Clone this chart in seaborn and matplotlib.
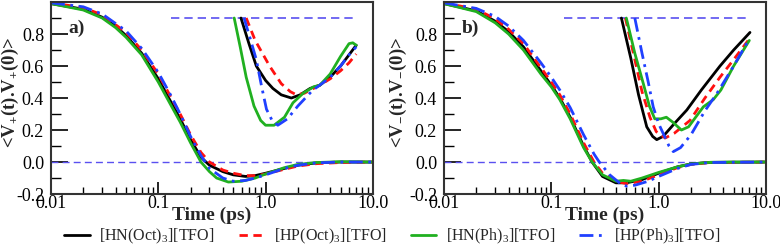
import numpy as np
import pandas as pd
import matplotlib
matplotlib.use("Agg")
from matplotlib import pyplot
import matplotlib.ticker as ticker
import seaborn as sns

# ---- data ----
names = ["[HN(Oct)$_3$][TFO]", "[HP(Oct)$_3$][TFO]", "[HN(Ph)$_3$][TFO]", "[HP(Ph)$_3$][TFO]"]
colors = ["black", "#ff1010", "#20b020", "#2040ff"]
styles = ["-", (0, (3, 2)), "-", (0, (5, 2, 1, 2))]

# panel a, main curves
a_black_x = [0.01, 0.02, 0.03, 0.04, 0.05, 0.07, 0.1, 0.13, 0.16, 0.2, 0.25, 0.3, 0.4, 0.5, 0.65, 0.8, 1.0, 1.5, 2, 3, 5, 10]
a_black_y = [0.99, 0.955, 0.905, 0.85, 0.79, 0.68, 0.52, 0.38, 0.27, 0.14, 0.03, -0.02, -0.06, -0.08, -0.09, -0.085, -0.07, -0.04, -0.02, -0.005, 0.0, 0.0]
a_red_x = [0.01, 0.02, 0.03, 0.05, 0.07, 0.1, 0.13, 0.16, 0.2, 0.25, 0.3, 0.4, 0.5, 0.65, 0.8, 1.0, 1.5, 2, 3, 5, 10]
a_red_y = [0.995, 0.965, 0.92, 0.81, 0.70, 0.55, 0.41, 0.30, 0.17, 0.06, 0.0, -0.05, -0.07, -0.085, -0.085, -0.075, -0.045, -0.025, -0.01, -0.003, 0.0]
a_green_x = [0.01, 0.02, 0.03, 0.04, 0.05, 0.07, 0.1, 0.13, 0.16, 0.2, 0.25, 0.3, 0.35, 0.45, 0.6, 0.8, 1.0, 1.5, 2, 3, 5, 10]
a_green_y = [0.99, 0.95, 0.90, 0.84, 0.78, 0.67, 0.50, 0.36, 0.25, 0.12, 0.0, -0.06, -0.10, -0.125, -0.12, -0.10, -0.075, -0.035, -0.015, -0.003, 0.002, 0.0]
a_blue_x = [0.01, 0.02, 0.03, 0.05, 0.07, 0.1, 0.13, 0.16, 0.2, 0.25, 0.3, 0.4, 0.5, 0.65, 0.8, 1.0, 1.5, 2, 3, 5, 10]
a_blue_y = [0.995, 0.97, 0.925, 0.82, 0.71, 0.56, 0.42, 0.30, 0.16, 0.04, -0.04, -0.10, -0.12, -0.115, -0.10, -0.08, -0.04, -0.02, -0.005, 0.0, 0.0]

# panel a, inset curves (drawn in the same axes)
ia_black_x = [0.59, 0.7, 0.82, 1.0, 1.17, 1.4, 1.74, 2.1, 2.6, 3.2, 4.0, 5.0, 6.0, 7.0]
ia_black_y = [0.9, 0.74, 0.60, 0.51, 0.46, 0.42, 0.40, 0.42, 0.46, 0.48, 0.53, 0.60, 0.67, 0.73]
ia_red_x = [0.66, 0.8, 1.09, 1.4, 1.7, 1.94, 2.3, 2.8, 3.2, 4.0, 5.0, 6.0, 7.0]
ia_red_y = [0.9, 0.76, 0.60, 0.49, 0.44, 0.42, 0.43, 0.46, 0.48, 0.52, 0.57, 0.62, 0.675]
ia_green_x = [0.51, 0.58, 0.66, 0.78, 0.9, 1.0, 1.2, 1.5, 1.8, 2.24, 2.8, 3.2, 4.0, 5.0, 6.0, 6.5, 7.0]
ia_green_y = [0.9, 0.72, 0.53, 0.35, 0.26, 0.23, 0.23, 0.28, 0.37, 0.43, 0.47, 0.48, 0.55, 0.66, 0.74, 0.745, 0.73]
ia_blue_x = [0.63, 0.72, 0.82, 0.92, 1.02, 1.15, 1.3, 1.6, 2.0, 2.76, 3.2, 4.0, 5.0, 6.0, 7.0]
ia_blue_y = [0.9, 0.77, 0.64, 0.47, 0.33, 0.26, 0.23, 0.27, 0.35, 0.45, 0.48, 0.53, 0.60, 0.67, 0.72]

# panel b, main curves
b_black_x = [0.01, 0.02, 0.03, 0.04, 0.055, 0.08, 0.1, 0.12, 0.15, 0.2, 0.24, 0.3, 0.4, 0.5, 0.7, 1.0, 1.5, 2, 3, 10]
b_black_y = [0.99, 0.945, 0.88, 0.815, 0.72, 0.57, 0.48, 0.40, 0.28, 0.10, 0.0, -0.09, -0.13, -0.13, -0.11, -0.07, -0.03, -0.012, -0.002, 0.0]
b_red_x = [0.01, 0.02, 0.03, 0.04, 0.055, 0.08, 0.1, 0.12, 0.15, 0.2, 0.25, 0.3, 0.4, 0.5, 0.7, 1.0, 1.5, 2, 3, 10]
b_red_y = [0.995, 0.955, 0.895, 0.83, 0.74, 0.59, 0.50, 0.42, 0.30, 0.12, 0.0, -0.07, -0.12, -0.135, -0.12, -0.08, -0.035, -0.015, -0.003, 0.0]
b_green_x = [0.01, 0.02, 0.03, 0.04, 0.055, 0.08, 0.1, 0.12, 0.15, 0.2, 0.24, 0.3, 0.4, 0.47, 0.55, 0.7, 1.0, 1.5, 2, 3, 5, 10]
b_green_y = [0.99, 0.94, 0.87, 0.80, 0.70, 0.55, 0.47, 0.39, 0.27, 0.09, 0.0, -0.08, -0.12, -0.115, -0.12, -0.10, -0.065, -0.03, -0.012, -0.002, 0.0, 0.0]
b_blue_x = [0.01, 0.02, 0.03, 0.04, 0.055, 0.08, 0.1, 0.12, 0.15, 0.2, 0.25, 0.28, 0.35, 0.45, 0.5, 0.6, 0.8, 1.0, 1.5, 2, 3, 10]
b_blue_y = [0.995, 0.96, 0.91, 0.85, 0.76, 0.62, 0.53, 0.45, 0.34, 0.17, 0.05, 0.0, -0.08, -0.14, -0.15, -0.145, -0.12, -0.09, -0.04, -0.015, -0.003, 0.0]

# panel b, inset curves
ib_black_x = [0.45, 0.55, 0.65, 0.775, 0.88, 0.96, 1.1, 1.4, 1.83, 2.5, 3.73, 5.0, 7.1]
ib_black_y = [0.9, 0.65, 0.42, 0.22, 0.16, 0.14, 0.16, 0.24, 0.325, 0.45, 0.60, 0.70, 0.81]
ib_red_x = [0.49, 0.6, 0.7, 0.83, 0.95, 1.15, 1.4, 1.96, 2.7, 3.73, 5.0, 7.0]
ib_red_y = [0.9, 0.64, 0.44, 0.28, 0.19, 0.15, 0.18, 0.26, 0.40, 0.53, 0.64, 0.77]
ib_green_x = [0.50, 0.6, 0.72, 0.82, 0.92, 1.05, 1.18, 1.35, 1.63, 1.9, 2.61, 3.23, 3.8, 5.0, 7.0]
ib_green_y = [0.9, 0.68, 0.49, 0.35, 0.27, 0.27, 0.28, 0.25, 0.20, 0.22, 0.345, 0.39, 0.45, 0.60, 0.76]
ib_blue_x = [0.60, 0.7, 0.8, 0.89, 1.0, 1.1, 1.25, 1.37, 1.6, 2.0, 2.7, 3.5, 5.0, 7.0]
ib_blue_y = [0.9, 0.68, 0.50, 0.345, 0.24, 0.18, 0.10, 0.065, 0.09, 0.17, 0.32, 0.43, 0.60, 0.77]

inset_line_a = (0.13, 6.8, 0.9)
inset_line_b = (0.13, 6.6, 0.9)

xticks = [0.01, 0.1, 1.0, 10.0]
xticklabels = ["0.01", "0.1", "1.0", "10.0"]
yticks = [-0.2, 0.0, 0.2, 0.4, 0.6, 0.8]
yticklabels = ["-0.2", "0.0", "0.2", "0.4", "0.6", "0.8"]

panels = [
    dict(tag="a)", ylabel=r"<V$_{\mathbf{+}}$(t).V$_{\mathbf{+}}$(0)>", ylx=-0.093,
         main=[(a_black_x, a_black_y), (a_red_x, a_red_y), (a_green_x, a_green_y), (a_blue_x, a_blue_y)],
         inset=[(ia_black_x, ia_black_y), (ia_red_x, ia_red_y), (ia_green_x, ia_green_y), (ia_blue_x, ia_blue_y)],
         hline=inset_line_a),
    dict(tag="b)", ylabel=r"<V$_{\mathbf{-}}$(t).V$_{\mathbf{-}}$(0)>", ylx=-0.108,
         main=[(b_black_x, b_black_y), (b_red_x, b_red_y), (b_green_x, b_green_y), (b_blue_x, b_blue_y)],
         inset=[(ib_black_x, ib_black_y), (ib_red_x, ib_red_y), (ib_green_x, ib_green_y), (ib_blue_x, ib_blue_y)],
         hline=inset_line_b),
]

sns.set_theme(style="ticks")
pyplot.rcParams["font.family"] = ["Liberation Serif", "DejaVu Serif"]
pyplot.rcParams["mathtext.fontset"] = "custom"
pyplot.rcParams["mathtext.rm"] = "Liberation Serif"
pyplot.rcParams["mathtext.bf"] = "Liberation Serif:bold"

fig = pyplot.figure(figsize=(7.8, 2.52), dpi=100)
axes = [fig.add_axes([0.0654, 0.230, 0.4126, 0.762]),
        fig.add_axes([0.5692, 0.230, 0.4128, 0.762])]

dash_col = "#5a50f0"
for ax, p in zip(axes, panels):
    ax.axhline(0.0, color=dash_col, lw=1.0, ls=(0, (5, 3)), zorder=1)
    x0, x1, yh = p["hline"]
    ax.hlines(yh, x0, x1, color=dash_col, lw=1.2, ls=(0, (5, 3)), zorder=1)
    for i, (xs, ys) in enumerate(p["main"]):
        df = pd.DataFrame({"t": xs, "c": ys})
        sns.lineplot(data=df, x="t", y="c", ax=ax, color=colors[i], linestyle=styles[i],
                     lw=2.0, label=names[i] if ax is axes[0] else None, legend=False)
    for i, (xs, ys) in enumerate(p["inset"]):
        df = pd.DataFrame({"t": xs, "c": ys})
        sns.lineplot(data=df, x="t", y="c", ax=ax, color=colors[i], linestyle=styles[i],
                     lw=2.0, legend=False)

    ax.set_xscale("log")
    ax.set_xlim(0.01, 10.0)
    ax.set_ylim(-0.2, 1.0)
    ax.set_xticks(xticks)
    ax.set_xticklabels(xticklabels)
    ax.xaxis.set_minor_locator(ticker.LogLocator(base=10, subs=np.arange(2, 10)))
    ax.xaxis.set_minor_formatter(ticker.NullFormatter())
    ax.set_yticks(yticks)
    ax.set_yticklabels(yticklabels)
    ax.yaxis.set_minor_locator(ticker.MultipleLocator(0.1))
    ax.tick_params(axis="both", which="both", direction="in", colors="black", labelsize=13,
                   top=False, right=False)
    ax.tick_params(axis="y", which="major", length=12, width=1.2, pad=5)
    ax.tick_params(axis="y", which="minor", length=7, width=1.0)
    ax.tick_params(axis="x", which="major", length=9, width=1.2, pad=1)
    ax.tick_params(axis="x", which="minor", length=5, width=1.0)
    for s in ax.spines.values():
        s.set_color("#333333")
        s.set_linewidth(1.5)
    ax.set_xlabel("Time (ps)", fontsize=14, fontweight="bold", labelpad=-4)
    ax.set_ylabel(p["ylabel"], fontsize=13.5, fontweight="bold")
    ax.yaxis.set_label_coords(p["ylx"], 0.53)
    ax.text(0.055, 0.84, p["tag"], transform=ax.transAxes, fontsize=14, fontweight="bold")
    ax.grid(False)

handles, labels = axes[0].get_legend_handles_labels()
fig.legend(handles, labels, loc="center", bbox_to_anchor=(0.503, 0.06), ncol=4, frameon=False,
           fontsize=11.5, handlelength=1.6, columnspacing=1.5, handletextpad=0.6,
           borderaxespad=0.0)

fig.savefig("out.png", dpi=100)
